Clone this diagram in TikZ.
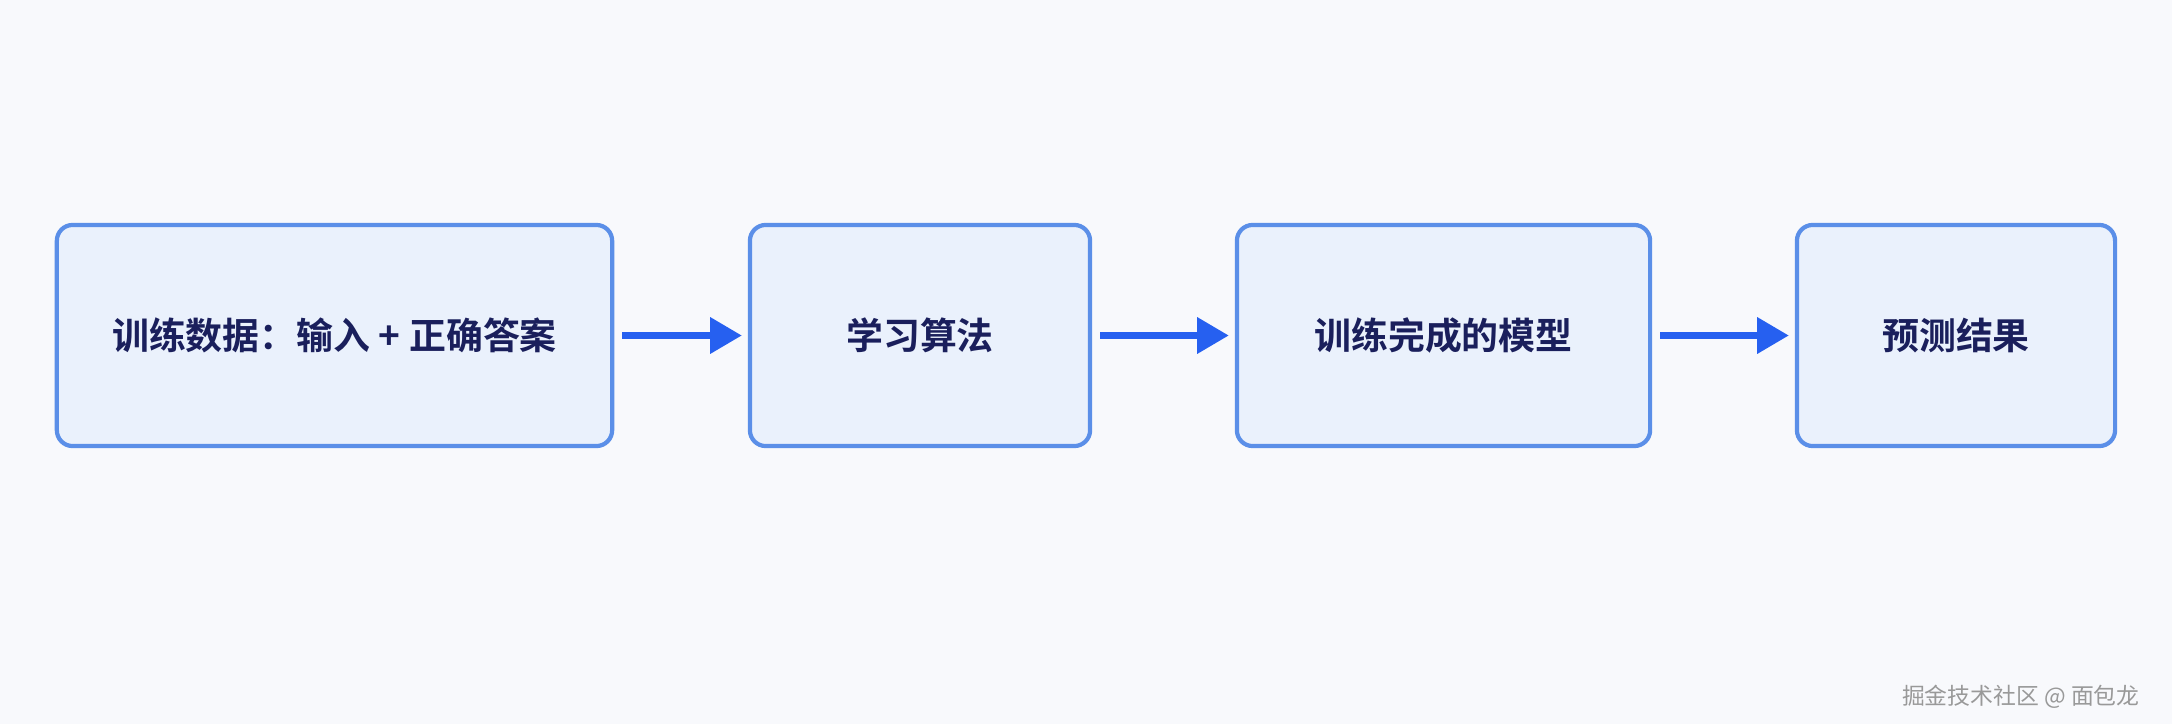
\documentclass[tikz,border=0pt]{standalone}
\usepackage{fontspec}
\newfontfamily\cjk{Noto Sans CJK SC}
\newfontfamily\cjkb{Noto Sans CJK SC Bold}
\usetikzlibrary{arrows.meta}
\definecolor{bg}{HTML}{F8F9FC}
\definecolor{bd}{HTML}{5B8FE8}
\definecolor{fl}{HTML}{EAF1FC}
\definecolor{tx}{HTML}{1A1F5C}
\definecolor{ar}{HTML}{2660F0}
\begin{document}
\begin{tikzpicture}[x=0.01cm,y=-0.01cm,
 box/.style={draw=bd,fill=fl,line width=1.2pt,rounded corners=4.5pt,text=tx,font=\cjkb\fontsize{10.5}{12}\selectfont},
 arr/.style={draw=ar,line width=1.8pt,-{Triangle[length=9pt,width=10pt]}}]
\fill[bg] (0,0) rectangle (2172,724);
\path[use as bounding box] (0,0) rectangle (2172,724);
\node[box,minimum width=5.55cm,minimum height=2.21cm] (a) at (334.5,335.5) {训练数据：输入 + 正确答案};
\node[box,minimum width=3.40cm,minimum height=2.21cm] (b) at (920,335.5) {学习算法};
\node[box,minimum width=4.13cm,minimum height=2.21cm] (c) at (1443.5,335.5) {训练完成的模型};
\node[box,minimum width=3.18cm,minimum height=2.21cm] (d) at (1956,335.5) {预测结果};
\draw[arr] ([xshift=0.08cm]a.east) -- ([xshift=-0.06cm]b.west);
\draw[arr] ([xshift=0.08cm]b.east) -- ([xshift=-0.06cm]c.west);
\draw[arr] ([xshift=0.08cm]c.east) -- ([xshift=-0.06cm]d.west);
\node[anchor=east,text=gray!80,font=\cjk\fontsize{6.5}{8}\selectfont] (w) at (2152,697) {掘金技术社区 @ 面包龙};
\end{tikzpicture}
\end{document}
